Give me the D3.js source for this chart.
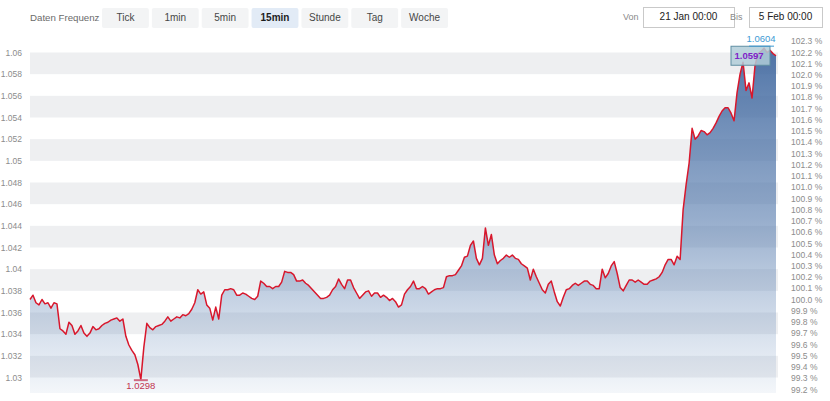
<!DOCTYPE html>
<html><head><meta charset="utf-8">
<script src="https://cdn.jsdelivr.net/npm/d3@7"></script>
<style>
body{margin:0;background:#fff;}
svg{display:block;font-family:"Liberation Sans",Arial,Helvetica,sans-serif;}
</style>
</head><body>
<svg id="c" width="830" height="401"></svg>
<script>
// ---------- data ----------
const frequencyLabel = "Daten Frequenz";
const frequencies = ["Tick","1min","5min","15min","Stunde","Tag","Woche"];
const selectedFrequency = "15min";
const fromLabel = "Von", toLabel = "Bis";
const rangeFrom = "21 Jan 00:00";
const rangeTo = "5 Feb 00:00";

const prices = [
1.0372,1.0376,1.0369,1.0367,1.0372,1.0368,1.0369,1.0364,1.0369,1.0368,
1.0345,1.0343,1.0340,1.0351,1.0348,1.0340,1.0343,1.0348,1.0341,1.0338,
1.0341,1.0347,1.0344,1.0345,1.0348,1.0350,1.0351,1.0353,1.0354,1.0355,
1.0352,1.0354,1.0338,1.0330,1.0325,1.0321,1.0312,1.0298,1.0328,1.0350,
1.0346,1.0344,1.0347,1.0348,1.0349,1.0352,1.0356,1.0352,1.0354,1.0356,
1.0355,1.0358,1.0357,1.0359,1.0363,1.0369,1.0381,1.0377,1.0379,1.0367,
1.0364,1.0353,1.0365,1.0354,1.0376,1.0381,1.0381,1.0382,1.0381,1.0376,
1.0376,1.0378,1.0377,1.0375,1.0373,1.0372,1.0375,1.0389,1.0387,1.0384,
1.0384,1.0382,1.0384,1.0384,1.0388,1.0398,1.0397,1.0397,1.0395,1.0389,
1.0389,1.0390,1.0387,1.0385,1.0382,1.0379,1.0376,1.0373,1.0373,1.0374,
1.0376,1.0381,1.0384,1.0391,1.0386,1.0382,1.0390,1.0390,1.0383,1.0378,
1.0373,1.0376,1.0379,1.0380,1.0375,1.0378,1.0378,1.0374,1.0376,1.0374,
1.0371,1.0373,1.0370,1.0365,1.0367,1.0377,1.0381,1.0384,1.0389,1.0382,
1.0382,1.0384,1.0382,1.0377,1.0379,1.0381,1.0382,1.0382,1.0383,1.0393,
1.0394,1.0394,1.0395,1.0399,1.0403,1.0411,1.0412,1.0422,1.0426,1.0410,
1.0404,1.0410,1.0438,1.0422,1.0432,1.0413,1.0405,1.0408,1.0410,1.0413,
1.0411,1.0413,1.0410,1.0409,1.0405,1.0403,1.0401,1.0390,1.0400,1.0393,
1.0387,1.0381,1.0378,1.0386,1.0389,1.0379,1.0370,1.0366,1.0374,1.0381,
1.0382,1.0385,1.0387,1.0385,1.0387,1.0389,1.0389,1.0386,1.0385,1.0382,
1.0382,1.0400,1.0392,1.0396,1.0403,1.0407,1.0396,1.0383,1.0380,1.0385,
1.0390,1.0390,1.0388,1.0390,1.0388,1.0386,1.0386,1.0389,1.0390,1.0391,
1.0393,1.0397,1.0404,1.0409,1.0409,1.0404,1.0412,1.0409,1.0455,1.0478,
1.0498,1.0530,1.0520,1.0523,1.0528,1.0527,1.0524,1.0526,1.0530,1.0535,
1.0541,1.0546,1.0549,1.0549,1.0544,1.0537,1.0563,1.0580,1.0591,1.0565,
1.0572,1.0558,1.0588,1.0599,1.0601,1.0604,1.0600,1.0602,1.0599,1.0597
];

const priceTicks = [1.06,1.058,1.056,1.054,1.052,1.05,1.048,1.046,1.044,1.042,1.04,1.038,1.036,1.034,1.032,1.03];
const priceTickLabels = ["1.06","1.058","1.056","1.054","1.052","1.05","1.048","1.046","1.044","1.042","1.04","1.038","1.036","1.034","1.032","1.03"];
const pctTicks = [102.3,102.2,102.1,102.0,101.9,101.8,101.7,101.6,101.5,101.4,101.3,101.2,101.1,101.0,100.9,100.8,100.7,100.6,100.5,100.4,100.3,100.2,100.1,100.0,99.9,99.8,99.7,99.6,99.5,99.4,99.3,99.2];
const pctTickLabels = pctTicks.map(p => p.toFixed(1) + " %");

// ---------- layout ----------
const plotLeft = 30, plotRight = 778, plotTop = 41, plotBottom = 393;
const svg = d3.select("#c");

// ---------- scales ----------
const x = d3.scaleLinear().domain([0, prices.length - 1]).range([30, 776]);
const y = d3.scaleLinear().domain([1.03, 1.06]).range([377.5, 52.5]);
const base = prices[0];
const yPct = d3.scaleLinear().domain(y.domain().map(v => v / base * 100)).range(y.range());

// ---------- header ----------
const header = svg.append("g");
header.append("text").attr("x", 30).attr("y", 18).attr("dominant-baseline", "middle")
  .attr("font-size", 9.7).attr("fill", "#6b6b6b").text(frequencyLabel);
const bx = d3.scaleBand().domain(frequencies).range([102, 448]).paddingInner(0.06);
const btn = header.selectAll("g.btn").data(frequencies).join("g").attr("class", "btn");
btn.append("rect").attr("x", d => bx(d)).attr("y", 8).attr("width", bx.bandwidth()).attr("height", 20)
  .attr("rx", 2).attr("fill", d => d === selectedFrequency ? "#e2ebf6" : "#f3f4f5");
btn.append("text").attr("x", d => bx(d) + bx.bandwidth() / 2).attr("y", 18)
  .attr("text-anchor", "middle").attr("dominant-baseline", "middle").attr("font-size", 10)
  .attr("font-weight", d => d === selectedFrequency ? "bold" : "normal")
  .attr("fill", d => d === selectedFrequency ? "#1d1d1d" : "#474747").text(d => d);

const dates = [
  {lab: fromLabel, val: rangeFrom, lx: 623, bx0: 643, bw: 91},
  {lab: toLabel, val: rangeTo, lx: 730, bx0: 749, bw: 73}
];
const dg = header.selectAll("g.date").data(dates).join("g").attr("class", "date");
dg.append("text").attr("x", d => d.lx).attr("y", 17.5).attr("dominant-baseline", "middle")
  .attr("font-size", 9).attr("fill", "#8a8a8a").text(d => d.lab);
dg.append("rect").attr("x", d => d.bx0 + 0.5).attr("y", 7.5).attr("width", d => d.bw).attr("height", 20)
  .attr("fill", "#fff").attr("stroke", "#c9c9c9");
dg.append("text").attr("x", d => d.bx0 + d.bw / 2).attr("y", 17.5).attr("text-anchor", "middle")
  .attr("dominant-baseline", "middle").attr("font-size", 10).attr("fill", "#222").text(d => d.val);

// ---------- bands ----------
const bandPairs = [];
for (let i = 0; i + 1 < priceTicks.length; i += 2) bandPairs.push([priceTicks[i], priceTicks[i + 1]]);
svg.append("g").selectAll("rect").data(bandPairs).join("rect")
  .attr("x", plotLeft).attr("width", plotRight - plotLeft)
  .attr("y", d => y(d[0])).attr("height", d => y(d[1]) - y(d[0]))
  .attr("fill", "#eeeff1");

// ---------- area ----------
const defs = svg.append("defs");
const grad = defs.append("linearGradient").attr("id", "fillGrad")
  .attr("gradientUnits", "userSpaceOnUse").attr("x1", 0).attr("x2", 0)
  .attr("y1", plotTop).attr("y2", plotBottom);
grad.append("stop").attr("offset", 0).attr("stop-color", "rgb(62,102,158)").attr("stop-opacity", 0.92);
grad.append("stop").attr("offset", 0.5).attr("stop-color", "rgb(80,118,170)").attr("stop-opacity", 0.6);
grad.append("stop").attr("offset", 1).attr("stop-color", "rgb(110,145,190)").attr("stop-opacity", 0.08);

const area = d3.area().x((d, i) => x(i)).y0(plotBottom).y1(d => y(d));
svg.append("path").datum(prices).attr("d", area).attr("fill", "url(#fillGrad)");

const line = d3.line().x((d, i) => x(i)).y(d => y(d));
svg.append("path").datum(prices).attr("d", line).attr("fill", "none")
  .attr("stroke", "#d8172c").attr("stroke-width", 1.5).attr("stroke-linejoin", "round");

// ---------- axes ----------
const leftAxis = d3.axisLeft(y).tickValues(priceTicks).tickFormat((d, i) => priceTickLabels[i]).tickSize(0).tickPadding(0);
const gl = svg.append("g").attr("transform", "translate(22,0)").call(leftAxis);
gl.select(".domain").remove();
gl.selectAll("text").attr("font-size", 8.5).attr("fill", "#8c8c8c").attr("font-family", "Liberation Sans, Arial, sans-serif");

const rightAxis = d3.axisRight(yPct).tickValues(pctTicks).tickFormat((d, i) => pctTickLabels[i]).tickSize(0).tickPadding(0);
const gr = svg.append("g").attr("transform", "translate(791,0)").call(rightAxis);
gr.select(".domain").remove();
gr.selectAll("text").attr("font-size", 8.5).attr("fill", "#8c8c8c").attr("font-family", "Liberation Sans, Arial, sans-serif");

// ---------- min / max / last markers ----------
const minV = d3.min(prices), minI = prices.indexOf(minV);
const maxV = d3.max(prices), maxI = prices.indexOf(maxV);
const lastI = prices.length - 1, lastV = prices[lastI];

svg.append("line").attr("x1", x(minI) - 7).attr("x2", x(minI) + 7)
  .attr("y1", y(minV) + 0.5).attr("y2", y(minV) + 0.5).attr("stroke", "#d06a80").attr("stroke-width", 2);
svg.append("text").attr("x", x(minI)).attr("y", y(minV) + 9).attr("text-anchor", "middle")
  .attr("font-size", 9.5).attr("fill", "#c2334f").text(minV.toFixed(4));

const boxW = 39, boxH = 19;
svg.append("rect").attr("x", x(lastI) - 6 - boxW).attr("y", y(lastV) - boxH / 2)
  .attr("width", boxW).attr("height", boxH)
  .attr("fill", "rgba(176,204,216,0.85)").attr("stroke", "#5f8ea3").attr("stroke-width", 1);
svg.append("text").attr("x", x(lastI) - 6 - boxW + 3.5).attr("y", y(lastV) + 0.5)
  .attr("dominant-baseline", "middle").attr("font-size", 9.5).attr("font-weight", "bold")
  .attr("fill", "#7f22c8").text(lastV.toFixed(4));

svg.append("line").attr("x1", x(maxI) - 15).attr("x2", x(maxI) + 10)
  .attr("y1", y(maxV) - 2).attr("y2", y(maxV) - 2).attr("stroke", "#3d9ad4").attr("stroke-width", 1);
svg.append("text").attr("x", x(maxI) - 3).attr("y", y(maxV) - 6).attr("text-anchor", "middle")
  .attr("font-size", 9.5).attr("fill", "#3d9ad4").text(maxV.toFixed(4));
</script>
</body></html>
